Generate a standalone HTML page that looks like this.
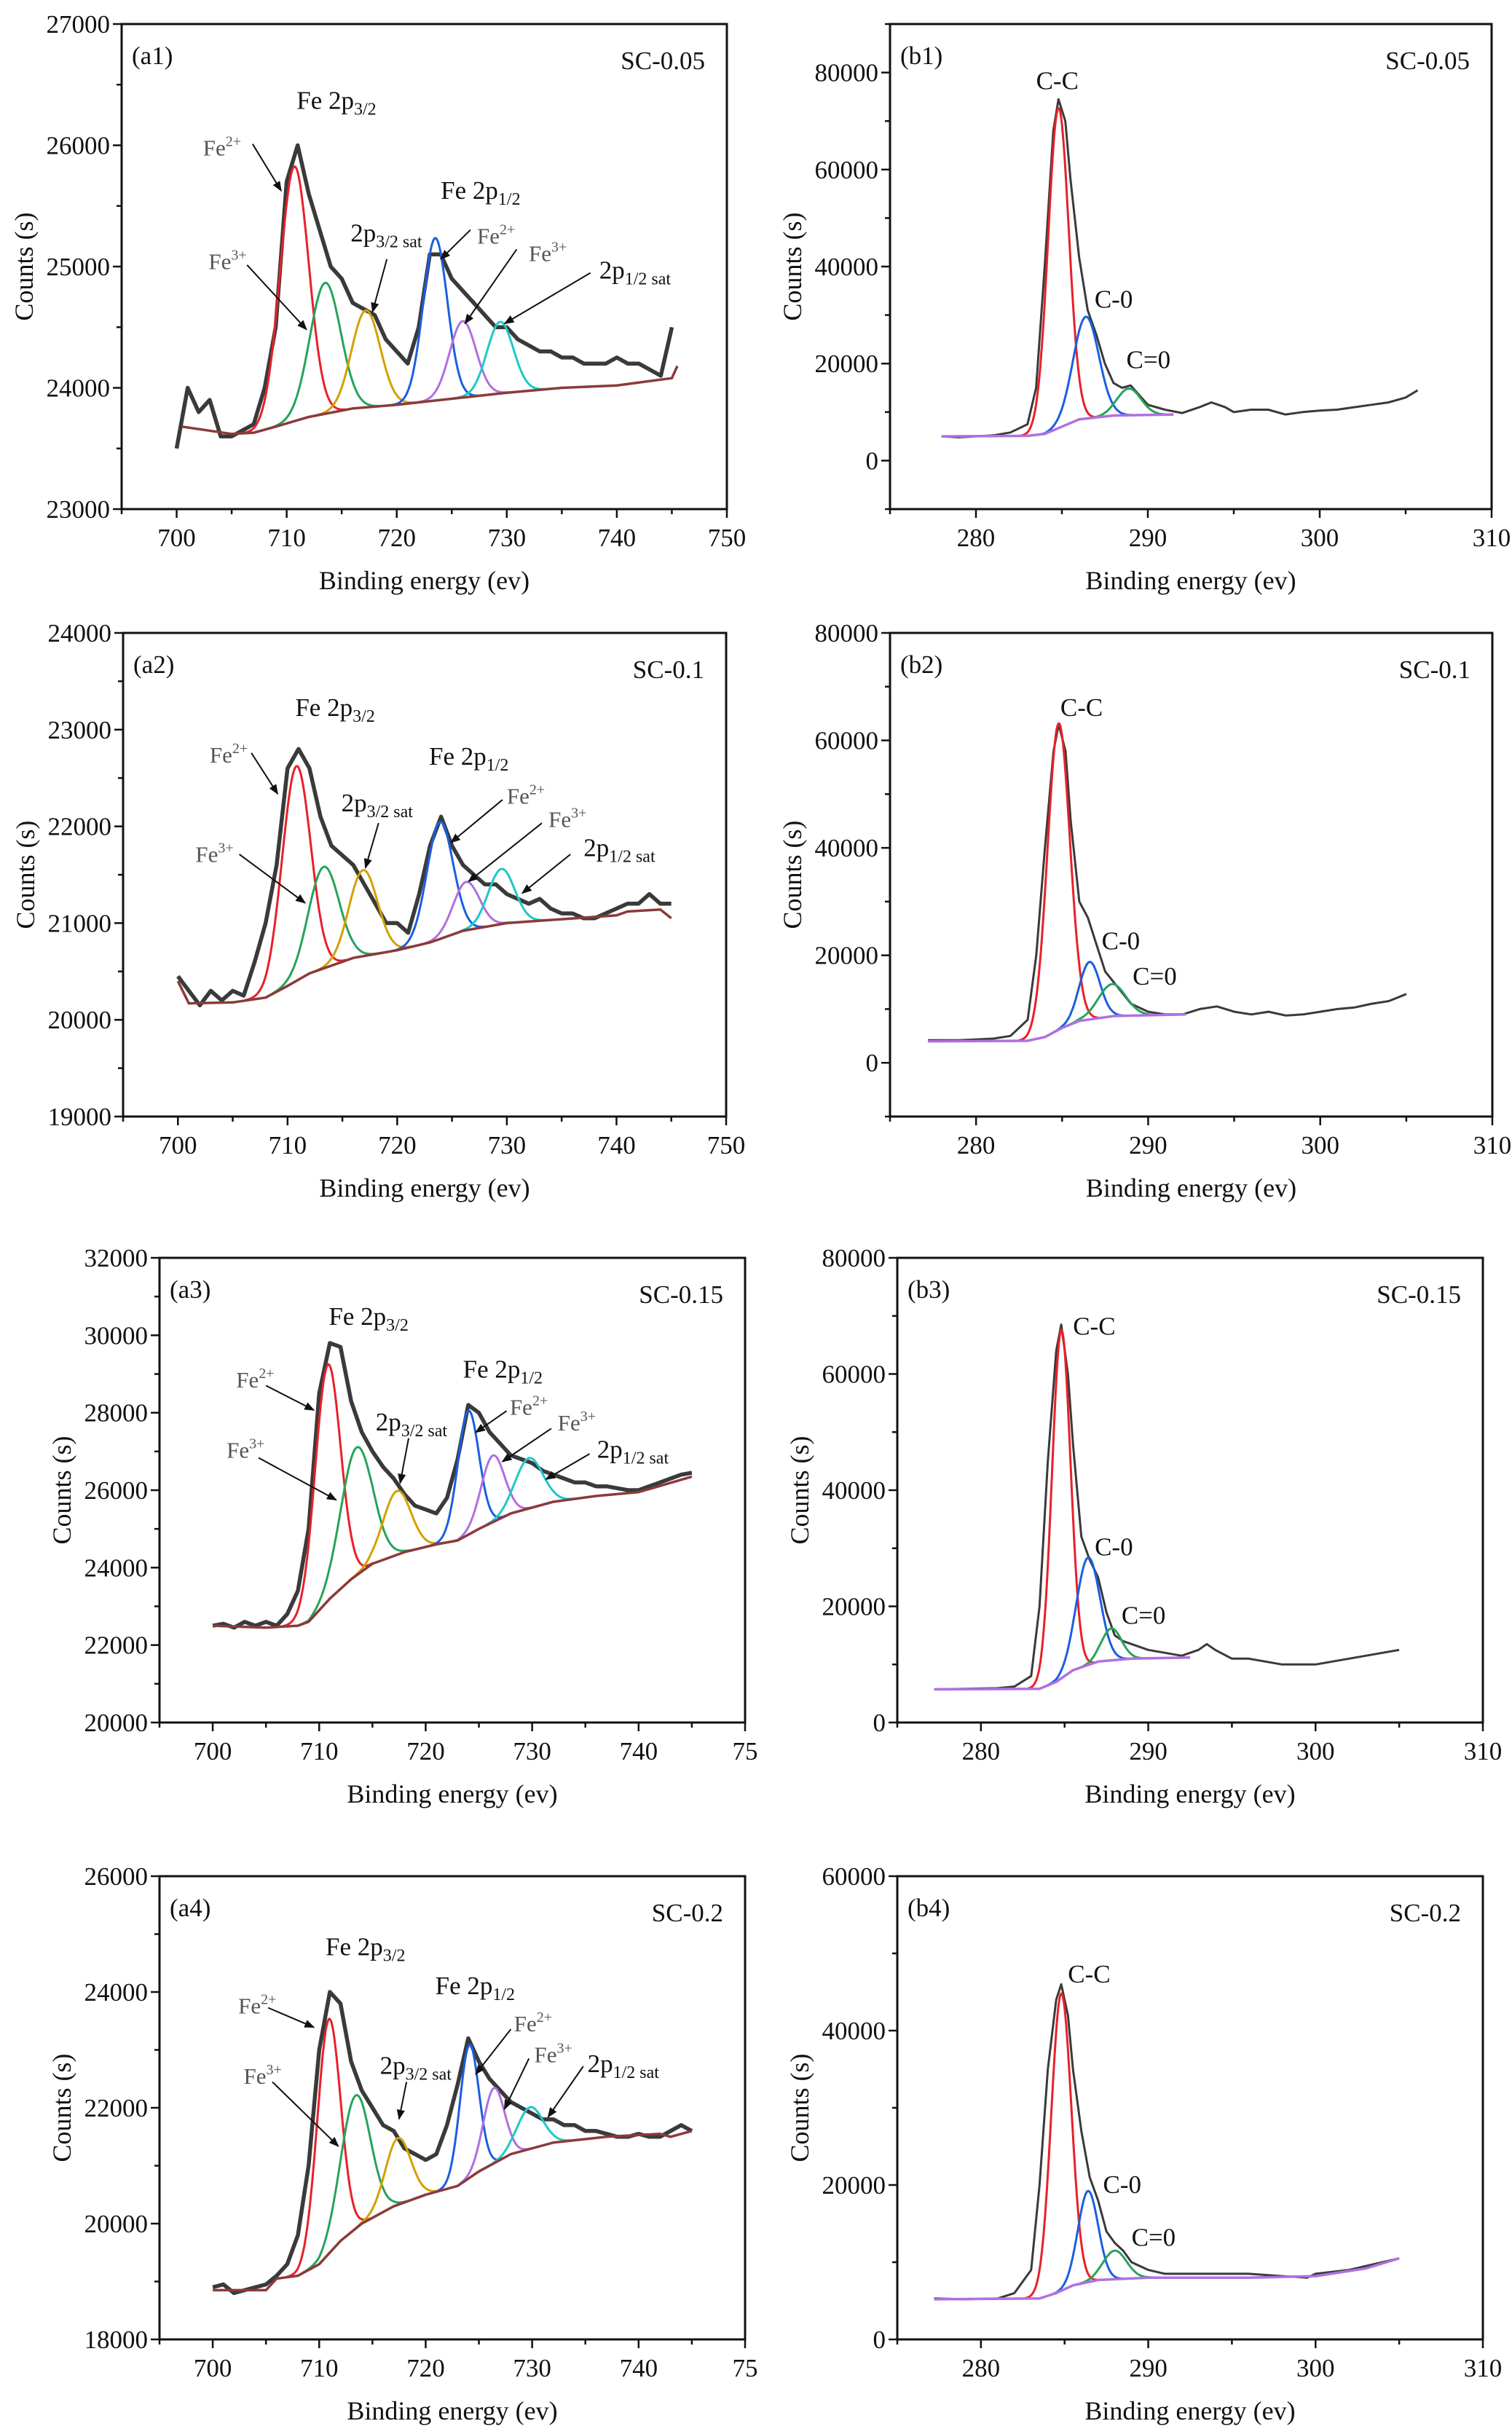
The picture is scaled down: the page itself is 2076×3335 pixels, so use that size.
<!DOCTYPE html>
<html><head><meta charset="utf-8"><title>XPS Fe 2p and C 1s spectra</title>
<style>html,body{margin:0;padding:0;background:#fff;}svg{display:block;}text{font-family:"Liberation Serif",serif;}</style>
</head><body>
<svg id="fig" xmlns="http://www.w3.org/2000/svg" width="2076" height="3335" viewBox="0 0 2076 3335">
<defs><marker id="arr" viewBox="0 0 10 10" refX="9" refY="5" markerWidth="7" markerHeight="7" orient="auto"><path d="M0,1 L10,5 L0,9 z" fill="#111"/></marker></defs>
</svg>
<script>
// ---------- data ----------
const aRawX = [700,701,702,703,704,705,706,707,708,709,710,711,712,713,714,715,716,717,718,719,720,721,722,723,724,725,726,727,728,729,730,731,732,733,734,735,736,737,738,739,740,741,742,743,744,745];
const a1RawY = [23500,24000,23800,23900,23600,23600,23650,23700,24000,24500,25700,26000,25600,25300,25000,24900,24700,24650,24600,24400,24300,24200,24500,25100,25100,24900,24800,24700,24600,24500,24500,24400,24350,24300,24300,24250,24250,24200,24200,24200,24250,24200,24200,24150,24100,24500];
const a1BgX = [700.5,705,707,709,712,716,720,724,730,735,740,745,745.5];
const a1BgY = [23680,23620,23630,23680,23760,23830,23860,23900,23960,24000,24020,24080,24180];
const a1PeakCenters = [710.7,713.5,717.2,723.5,726.0,729.4];
const a1PeakHeights = [2100,1080,800,1340,630,590];
const a1PeakWidths = [1.3,1.4,1.3,1.1,1.2,1.2];

const a2RawY = [20450,20300,20150,20300,20200,20300,20250,20600,21000,21600,22600,22800,22600,22100,21800,21700,21600,21400,21200,21000,21000,20900,21300,21800,22100,21800,21600,21500,21400,21400,21300,21250,21200,21250,21150,21100,21100,21050,21050,21100,21150,21200,21200,21300,21200,21200];
const a2BgX = [700,701,705,708,710,712,716,720,723,726,730,735,740,741,744,745];
const a2BgY = [20400,20170,20180,20230,20350,20480,20640,20720,20800,20920,21000,21040,21080,21120,21140,21050];
const a2PeakCenters = [710.8,713.3,716.9,723.9,726.3,729.5];
const a2PeakHeights = [2220,1050,890,1210,500,570];
const a2PeakWidths = [1.3,1.4,1.3,1.2,1.2,1.2];

const a3RawY = [22500,22550,22450,22600,22500,22600,22500,22800,23400,25000,28500,29800,29700,28300,27500,27000,26600,26300,25900,25600,25500,25400,25800,26800,28200,28000,27500,27200,26900,26800,26700,26500,26400,26300,26200,26200,26100,26100,26050,26000,26000,26100,26200,26300,26400,26450];
const a3BgX = [700,705,708,709,711,713,715,718,721,723,725,728,732,736,740,745];
const a3BgY = [22500,22450,22500,22600,23200,23700,24100,24400,24600,24700,25000,25400,25700,25850,25950,26350];
const a3PeakCenters = [710.8,713.5,717.3,724.0,726.3,729.7];
const a3PeakHeights = [6100,3300,1650,3200,1720,1300];
const a3PeakWidths = [1.2,1.5,1.3,1.0,1.1,1.3];

const a4RawY = [18900,18950,18800,18850,18900,18950,19100,19300,19800,21000,23000,24000,23800,22800,22300,22000,21700,21600,21300,21200,21100,21200,21700,22400,23200,22800,22500,22300,22100,22000,21900,21800,21800,21700,21700,21600,21600,21550,21500,21500,21550,21500,21500,21600,21700,21600];
const a4BgX = [700,705,706,708,710,712,714,717,720,723,725,728,732,737,742,743,745];
const a4BgY = [18850,18850,19050,19100,19300,19700,20000,20300,20500,20650,20900,21200,21400,21500,21550,21500,21600];
const a4PeakCenters = [710.9,713.4,717.4,724.1,726.4,729.8];
const a4PeakHeights = [4050,2300,1150,2300,1300,720];
const a4PeakWidths = [1.1,1.4,1.2,0.9,1.0,1.2];

const b1RawX = [278,279,280,281,282,283,283.5,284,284.5,284.8,285.2,285.5,286,286.5,287,287.5,288,288.5,289,289.5,290,291,292,293,293.7,294.5,295,296,297,298,299,300,301,302,303,304,305,305.7];
const b1RawY = [5000,4800,5000,5200,5800,7500,15000,40000,68000,74500,70000,58000,42000,31000,26000,20000,16000,15000,15500,13500,11500,10500,9800,11000,12000,11000,10000,10500,10500,9500,10000,10300,10500,11000,11500,12000,13000,14500];
const b1BgX = [278,283,284,285,286,288,291.5];
const b1BgY = [5000,5100,5500,7000,8500,9300,9500];
const b1PeakCenters = [284.8,286.4,288.9];
const b1PeakHeights = [66000,21000,5500];
const b1PeakWidths = [0.6,0.75,0.7];

const b2RawX = [277.2,279,281,282,283,283.5,284,284.5,284.8,285.2,285.5,286,286.5,287,287.5,288,288.5,289,290,291,292,293,294,295,296,297,298,299,300,301,302,303,304,305];
const b2RawY = [4200,4200,4500,5000,8000,20000,40000,58000,63000,58000,45000,30000,27000,22000,17000,15000,13000,11000,9500,9000,9000,10000,10500,9500,9000,9500,8800,9000,9500,10000,10300,11000,11500,12800];
const b2BgX = [277.2,283,284,285,286,288,292.2];
const b2BgY = [4000,4100,4800,6500,7800,8700,9000];
const b2PeakCenters = [284.8,286.6,287.9];
const b2PeakHeights = [57000,10700,6000];
const b2PeakWidths = [0.65,0.6,0.8];

const b3RawX = [277.2,279,281,282,283,283.5,284,284.5,284.8,285.2,285.5,286,286.5,287,287.5,288,288.5,289,290,291,292,293,293.5,294,295,296,297,298,299,300,301,302,303,304,305];
const b3RawY = [5700,5800,5900,6200,8000,20000,45000,64000,68500,60000,48000,32000,28000,25000,19000,15000,14000,13500,12500,12000,11500,12500,13500,12500,11000,11000,10500,10000,10000,10000,10500,11000,11500,12000,12500];
const b3BgX = [277.2,283.5,284.5,285.5,287,289,292.5];
const b3BgY = [5700,5800,7000,9000,10500,11000,11200];
const b3PeakCenters = [284.8,286.4,287.8];
const b3PeakHeights = [60000,18500,5500];
const b3PeakWidths = [0.55,0.7,0.6];

const b4RawX = [277.2,279,281,282,283,283.5,284,284.5,284.8,285.2,285.5,286,286.5,287,287.5,288,288.5,289,290,291,292,294,296,298,299.5,300,302,304,305];
const b4RawY = [5300,5200,5300,6000,9000,20000,35000,44000,46000,42000,35000,27000,21000,18000,14000,12500,11500,10000,9000,8500,8500,8500,8500,8200,8000,8500,9000,10000,10500];
const b4BgX = [277.2,283.5,284.5,285.5,287,290,296,300,303,305];
const b4BgY = [5200,5300,6000,7000,7700,8000,8000,8200,9200,10500];
const b4PeakCenters = [284.8,286.4,288.0];
const b4PeakHeights = [38500,11800,3700];
const b4PeakWidths = [0.6,0.6,0.7];

const aXTicks = [700,710,720,730,740,750];
const bXTicks = [280,290,300,310];

// ---------- drawing ----------
const NS = 'http://www.w3.org/2000/svg';
const svg = document.getElementById('fig');
function mk(tag, attrs, parent) {
  const e = document.createElementNS(NS, tag);
  for (const k in attrs) e.setAttribute(k, attrs[k]);
  (parent || svg).appendChild(e);
  return e;
}
function interp(xs, ys, x) {
  if (x <= xs[0]) return ys[0];
  for (let i = 1; i < xs.length; i++) if (x <= xs[i]) { const t = (x - xs[i-1]) / (xs[i] - xs[i-1]); return ys[i-1] + t * (ys[i] - ys[i-1]); }
  return ys[ys.length - 1];
}
const aColors = ['#e8202a','#27a35a','#d4a000','#1a5fe0','#b070e0','#20c8c8'];
const bColors = ['#e8202a','#1a5fe0','#27a35a'];

function addText(g, x, y, parts, opts) {
  const t = mk('text', {x: x, y: y, 'font-size': opts.size || 35, fill: opts.fill || '#111', 'text-anchor': opts.anchor || 'start'}, g);
  
  
  parts.forEach(p => {
    const s = mk('tspan', {}, t);
    if (p.sub) { s.setAttribute('font-size', Math.round((opts.size||35)*0.68)); s.setAttribute('dy', 8); }
    if (p.sup) { s.setAttribute('font-size', Math.round((opts.size||35)*0.66)); s.setAttribute('dy', -13); }
    s.textContent = p.t;
  });
  return t;
}

function panel(c) {
  const g = mk('g', {});
  
  
  const sx = x => c.L + (x - c.xmin) / (c.xmax - c.xmin) * (c.R - c.L);
  const sy = y => c.B - (y - c.ymin) / (c.ymax - c.ymin) * (c.B - c.T);
  const fr = mk('rect', {x: c.L, y: c.T, width: c.R - c.L, height: c.B - c.T, fill: 'none', stroke: '#111', 'stroke-width': 3}, g);
  
  
  for (let v = c.ymin; v <= c.ymax + 1e-6; v += c.yminor) {
    const major = Math.abs((v - c.y0) / c.ystep - Math.round((v - c.y0) / c.ystep)) < 1e-6;
    mk('line', {x1: c.L - (major ? 12 : 7), x2: c.L, y1: sy(v), y2: sy(v), stroke: '#111', 'stroke-width': 2.5}, g);
    if (major && v >= c.y0) {
      const t = mk('text', {x: c.L - 16, y: sy(v) + 12, 'font-size': 35, 'text-anchor': 'end', fill: '#111'}, g);
      
      
      t.textContent = v;
    }
  }
  for (let v = c.xmin; v <= c.xmax + 1e-6; v += 5) {
    const major = Math.abs(v % 10) < 1e-6;
    mk('line', {x1: sx(v), x2: sx(v), y1: c.B, y2: c.B + (major ? 12 : 7), stroke: '#111', 'stroke-width': 2.5}, g);
  }
  c.xticks.forEach((v, i) => {
    const t = mk('text', {x: sx(v), y: c.B + 51, 'font-size': 35, 'text-anchor': 'middle', fill: '#111'}, g);
    
    
    t.textContent = c.xlabels ? c.xlabels[i] : v;
  });
  const xt = mk('text', {x: (c.L + c.R) / 2, y: c.B + 110, 'font-size': 36, 'text-anchor': 'middle', fill: '#111'}, g);
  
  
  xt.textContent = 'Binding energy (ev)';
  const yc = (c.T + c.B) / 2;
  const yt = mk('text', {x: c.L - 122, y: yc, 'font-size': 36, 'text-anchor': 'middle', fill: '#111', transform: 'rotate(-90 ' + (c.L - 122) + ' ' + yc + ')'}, g);
  
  
  yt.textContent = 'Counts (s)';
  const rp = c.rawX.map((x, i) => sx(x).toFixed(1) + ',' + sy(c.rawY[i]).toFixed(1)).join(' ');
  const raw = mk('polyline', {points: rp, fill: 'none', stroke: '#3a3a3a', 'stroke-width': c.rawW, 'stroke-linejoin': 'round'}, g);
  
  
  c.centers.forEach((cc, k) => {
    const w = c.widths[k], h = c.heights[k], pts = [];
    for (let x = cc - 3.6 * w; x <= cc + 3.6 * w; x += w / 12) {
      const y = interp(c.bgX, c.bgY, x) + h * Math.exp(-((x - cc) ** 2) / (2 * w * w));
      pts.push(sx(x).toFixed(1) + ',' + sy(y).toFixed(1));
    }
    const p = mk('polyline', {points: pts.join(' '), fill: 'none', stroke: c.colors[k], 'stroke-width': 3}, g);
    
    
  });
  const bp = c.bgX.map((x, i) => sx(x).toFixed(1) + ',' + sy(c.bgY[i]).toFixed(1)).join(' ');
  const bgl = mk('polyline', {points: bp, fill: 'none', stroke: c.bgColor, 'stroke-width': 3.5}, g);
  
  
  addText(g, c.L + 14, c.T + 55, [{t: '(' + c.id + ')'}], {name: 'panel-label'});
  addText(g, c.R - 30, c.T + 62, [{t: c.sample}], {name: 'sample-label', anchor: 'end'});
  (c.notes || []).forEach(n => {
    addText(g, sx(n.x), sy(n.y), n.parts, {name: n.name, fill: n.gray ? '#555' : '#111', size: n.size || 35});
    if (n.arrow) {
      const a = n.arrow;
      const ln = mk('line', {x1: sx(a[0]), y1: sy(a[1]), x2: sx(a[2]), y2: sy(a[3]), stroke: '#111', 'stroke-width': 2, 'marker-end': 'url(#arr)'}, g);
      
      
    }
  });
}

function aNotes(v) {
  return [
    {name: 'fe-2p32-label', x: v[0][0], y: v[0][1], parts: [{t: 'Fe 2p'}, {t: '3/2', sub: 1}]},
    {name: 'fe2-label', gray: 1, size: 31, x: v[1][0], y: v[1][1], parts: [{t: 'Fe'}, {t: '2+', sup: 1}], arrow: v[1][2]},
    {name: 'fe3-label', gray: 1, size: 31, x: v[2][0], y: v[2][1], parts: [{t: 'Fe'}, {t: '3+', sup: 1}], arrow: v[2][2]},
    {name: 'sat32-label', x: v[3][0], y: v[3][1], parts: [{t: '2p'}, {t: '3/2 sat', sub: 1}], arrow: v[3][2]},
    {name: 'fe-2p12-label', x: v[4][0], y: v[4][1], parts: [{t: 'Fe 2p'}, {t: '1/2', sub: 1}]},
    {name: 'fe2-12-label', gray: 1, size: 31, x: v[5][0], y: v[5][1], parts: [{t: 'Fe'}, {t: '2+', sup: 1}], arrow: v[5][2]},
    {name: 'fe3-12-label', gray: 1, size: 31, x: v[6][0], y: v[6][1], parts: [{t: 'Fe'}, {t: '3+', sup: 1}], arrow: v[6][2]},
    {name: 'sat12-label', x: v[7][0], y: v[7][1], parts: [{t: '2p'}, {t: '1/2 sat', sub: 1}], arrow: v[7][2]}
  ];
}
function bNotes(v) {
  return [
    {name: 'c-c-label', x: v[0][0], y: v[0][1], parts: [{t: 'C-C'}]},
    {name: 'c-o-label', x: v[1][0], y: v[1][1], parts: [{t: 'C-0'}]},
    {name: 'c-double-o-label', x: v[2][0], y: v[2][1], parts: [{t: 'C=0'}]}
  ];
}

const aBase = {xmin: 695, xmax: 750, xticks: aXTicks, rawX: aRawX, colors: aColors, bgColor: '#8b3a3a', rawW: 5.5};
const bBase = {xmin: 275, xmax: 310, xticks: bXTicks, colors: bColors, bgColor: '#b070e0', rawW: 3};

panel(Object.assign({}, aBase, {id: 'a1', sample: 'SC-0.05', L: 167, R: 998, T: 33, B: 699, ymin: 23000, ymax: 27000, y0: 23000, ystep: 1000, yminor: 500,
  rawY: a1RawY, bgX: a1BgX, bgY: a1BgY, centers: a1PeakCenters, heights: a1PeakHeights, widths: a1PeakWidths,
  notes: aNotes([[710.9,26300],[702.4,25915,[706.9,26011,709.5,25625]],[702.9,24980,[706.4,25013,711.8,24481]],[715.8,25206,[719.1,25061,717.8,24626]],[724,25560],[727.3,25190,[726.7,25303,724,25061]],[732,25045,[730.9,25142,726.2,24530]],[738.4,24900,[737.6,24948,729.8,24530]]])}));
panel(Object.assign({}, aBase, {id: 'a2', sample: 'SC-0.1', L: 169, R: 997, T: 869, B: 1533, ymin: 19000, ymax: 24000, y0: 19000, ystep: 1000, yminor: 500,
  rawY: a2RawY, bgX: a2BgX, bgY: a2BgY, centers: a2PeakCenters, heights: a2PeakHeights, widths: a2PeakWidths,
  notes: aNotes([[710.7,23142],[702.9,22658,[706.7,22759,709.1,22336]],[701.6,21631,[705.6,21711,711.6,21208]],[714.9,22155,[718.3,22034,717.1,21570]],[722.9,22638],[730,22235,[729.6,22275,724.9,21832]],[733.8,21993,[733.2,22034,726.5,21429]],[737,21691,[735.8,21711,731.4,21309]]])}));
panel(Object.assign({}, aBase, {id: 'a3', sample: 'SC-0.15', L: 219, R: 1023, T: 1727, B: 2365, ymin: 20000, ymax: 32000, y0: 20000, ystep: 2000, yminor: 1000, xlabels: ['700','710','720','730','740','75'],
  rawY: a3RawY, bgX: a3BgX, bgY: a3BgY, centers: a3PeakCenters, heights: a3PeakHeights, widths: a3PeakWidths,
  notes: aNotes([[710.9,30265],[702.2,28652,[705,28702,709.5,28067]],[701.3,26837,[704.3,26837,711.6,25748]],[715.3,27543,[718.4,27341,717.6,26181]],[723.5,28904],[727.9,27946,[727.6,28047,724.7,27492]],[732.4,27543,[731.8,27593,727.2,26736]],[736.1,26837,[735.4,26938,731.3,26282]]])}));
panel(Object.assign({}, aBase, {id: 'a4', sample: 'SC-0.2', L: 219, R: 1023, T: 2576, B: 3212, ymin: 18000, ymax: 26000, y0: 18000, ystep: 2000, yminor: 1000, xlabels: ['700','710','720','730','740','75'],
  rawY: a4RawY, bgX: a4BgX, bgY: a4BgY, centers: a4PeakCenters, heights: a4PeakHeights, widths: a4PeakWidths,
  notes: aNotes([[710.6,24637],[702.4,23627,[705.2,23728,709.5,23391]],[702.9,22414,[705.6,22447,711.8,21336]],[715.7,22582,[718.2,22447,717.5,21807]],[720.9,23964],[728.3,23323,[728,23357,724.7,22582]],[730.2,22784,[729.7,22852,727.4,21976]],[735.2,22616,[734.8,22717,731.5,21841]]])}));

panel(Object.assign({}, bBase, {id: 'b1', sample: 'SC-0.05', L: 1222, R: 2048, T: 33, B: 699, ymin: -10000, ymax: 90000, y0: 0, ystep: 20000, yminor: 10000,
  rawX: b1RawX, rawY: b1RawY, bgX: b1BgX, bgY: b1BgY, centers: b1PeakCenters, heights: b1PeakHeights, widths: b1PeakWidths,
  notes: bNotes([[283.5,76540],[286.9,31520],[288.75,19060]])}));
panel(Object.assign({}, bBase, {id: 'b2', sample: 'SC-0.1', L: 1222, R: 2049, T: 869, B: 1533, ymin: -10000, ymax: 80000, y0: 0, ystep: 20000, yminor: 10000,
  rawX: b2RawX, rawY: b2RawY, bgX: b2BgX, bgY: b2BgY, centers: b2PeakCenters, heights: b2PeakHeights, widths: b2PeakWidths,
  notes: bNotes([[284.9,64560],[287.3,21090],[289.1,14565]])}));
panel(Object.assign({}, bBase, {id: 'b3', sample: 'SC-0.15', L: 1232, R: 2036, T: 1727, B: 2365, ymin: 0, ymax: 80000, y0: 0, ystep: 20000, yminor: 10000,
  rawX: b3RawX, rawY: b3RawY, bgX: b3BgX, bgY: b3BgY, centers: b3PeakCenters, heights: b3PeakHeights, widths: b3PeakWidths,
  notes: bNotes([[285.5,66760],[286.8,28770],[288.4,17010]])}));
panel(Object.assign({}, bBase, {id: 'b4', sample: 'SC-0.2', L: 1232, R: 2036, T: 2576, B: 3212, ymin: 0, ymax: 60000, y0: 0, ystep: 20000, yminor: 10000,
  rawX: b4RawX, rawY: b4RawY, bgX: b4BgX, bgY: b4BgY, centers: b4PeakCenters, heights: b4PeakHeights, widths: b4PeakWidths,
  notes: bNotes([[285.2,46250],[287.3,18955],[289,12130]])}));
</script>
</body></html>
